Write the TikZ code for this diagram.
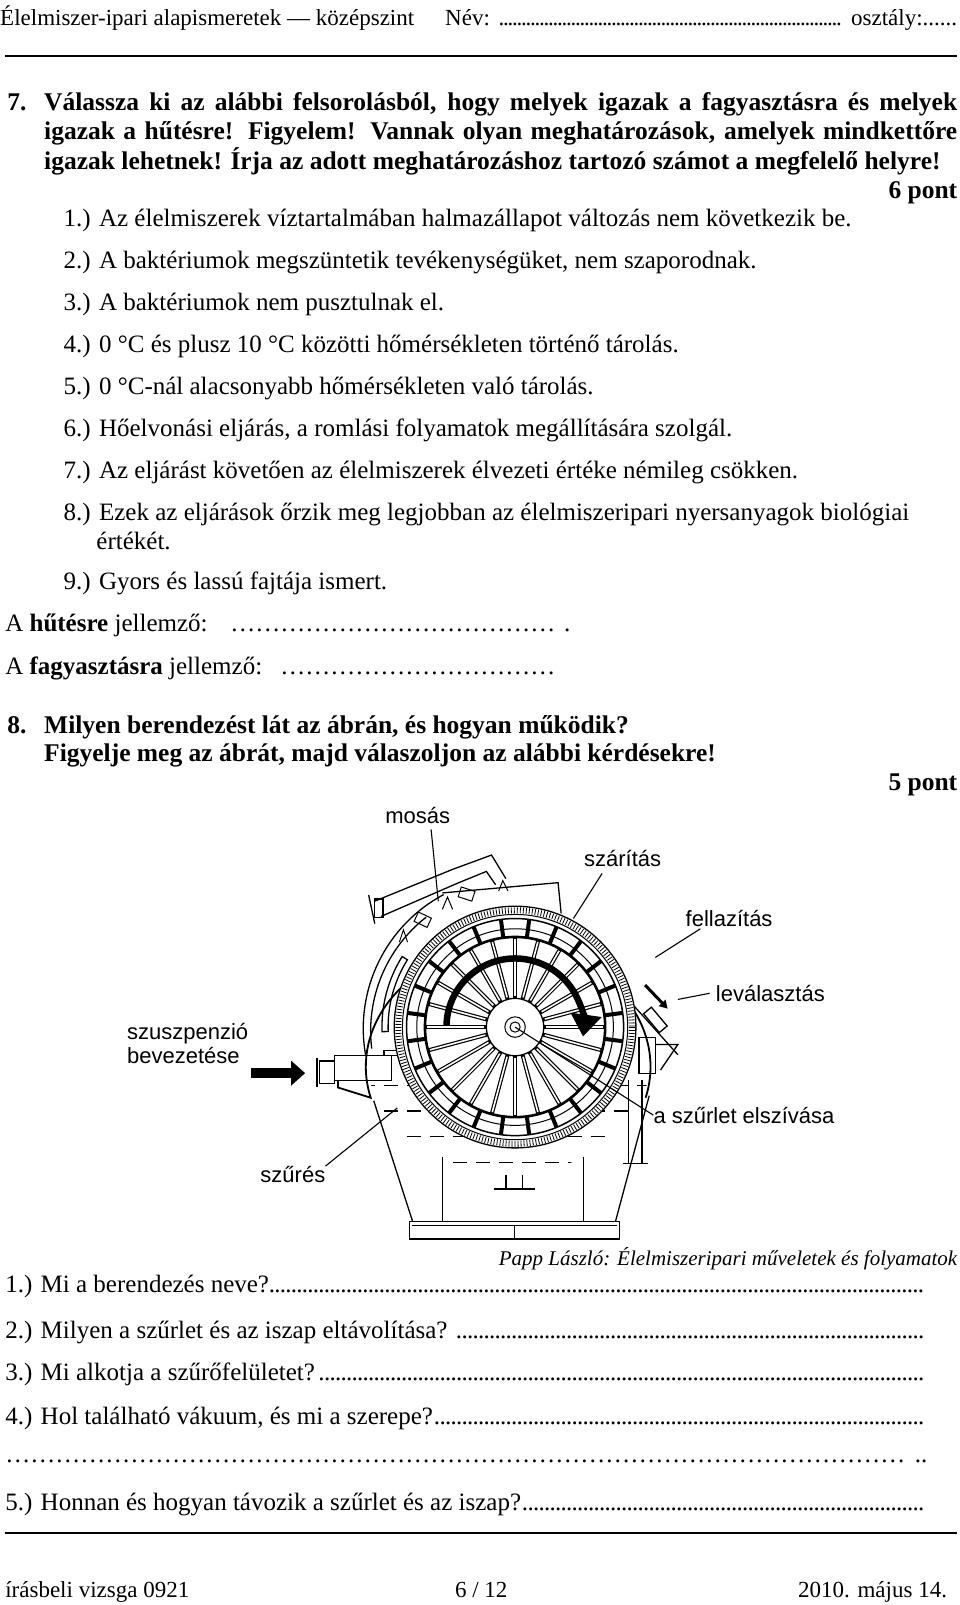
\documentclass[tikz,border=0pt]{standalone}
\usepackage{fontspec}
\setmainfont{Liberation Serif}
\newfontfamily\arialf{Liberation Sans}
\usetikzlibrary{arrows.meta,calc}
\newcommand\ellfill[1]{\leaders\hbox to #1{\hss…\hss}\hfill}
\newcommand\dotl{\leaders\hbox to 5.5pt{\hss.\hss}\hfill}
\begin{document}
\begin{tikzpicture}[x=1.024pt,y=-1.024pt,
  txt/.style={anchor=west,inner sep=0pt,font=\fontsize{25}{28}\selectfont},
  htxt/.style={anchor=west,inner sep=0pt,font=\fontsize{23}{26}\selectfont},
  btxt/.style={anchor=west,inner sep=0pt,font=\fontsize{25.5}{28}\selectfont\bfseries},
  lbl/.style={anchor=center,inner sep=0pt,font=\arialf\fontsize{22}{25}\selectfont},
  ldr/.style={line width=1.1pt},
  mech/.style={line width=1.3pt},
]
\useasboundingbox[fill=white] (0,0) rectangle (937.5,1567.4);
% header
\node[htxt] (h1) at (0,18) {Élelmiszer-ipari alapismeretek — középszint};
\node[htxt,anchor=base east] (h2) at (h1.base -| 935,0) {\hbox to 512pt{Név: \leaders\hbox to 4.5pt{\hss.\hss}\hfill\ osztály:......}};
\draw[line width=2.2pt] (5,55) -- (935,55);
% question 7
\node[btxt] (q7a) at (43,102) {\makebox[913pt][s]{Válassza ki az alábbi felsorolásból, hogy melyek igazak a fagyasztásra és melyek}};
\node[btxt,anchor=base west] (q7n) at (q7a.base -| 7,0) {7.};
\node[btxt] (q7b) at (43,130) {\makebox[913pt][s]{igazak a hűtésre! Figyelem! Vannak olyan meghatározások, amelyek mindkettőre}};
\node[btxt] (q7c) at (43,158) {igazak lehetnek! Írja az adott meghatározáshoz tartozó számot a megfelelő helyre!};
\node[btxt,anchor=east] (p6) at (935,188) {6 pont};
\node[txt] (i1) at (62,215) {1.) Az élelmiszerek víztartalmában halmazállapot változás nem következik be.};
\node[txt] (i2) at (62,256) {2.) A baktériumok megszüntetik tevékenységüket, nem szaporodnak.};
\node[txt] (i3) at (62,297) {3.) A baktériumok nem pusztulnak el.};
\node[txt] (i4) at (62,338) {4.) 0 °C és plusz 10 °C közötti hőmérsékleten történő tárolás.};
\node[txt] (i5) at (62,379) {5.) 0 °C-nál alacsonyabb hőmérsékleten való tárolás.};
\node[txt] (i6) at (62,420) {6.) Hőelvonási eljárás, a romlási folyamatok megállítására szolgál.};
\node[txt] (i7) at (62,461) {7.) Az eljárást követően az élelmiszerek élvezeti értéke némileg csökken.};
\node[txt] (i8) at (62,502) {8.) Ezek az eljárások őrzik meg legjobban az élelmiszeripari nyersanyagok biológiai};
\node[txt] (i8b) at (94,528) {értékét.};
\node[txt] (i9) at (62,570) {9.) Gyors és lassú fajtája ismert.};
\node[txt] (a1) at (5,611) {\hbox to 565pt{A \textbf{hűtésre} jellemző:\ellfill{25pt}.}};
\node[txt] (a2) at (5,653) {\hbox to 558pt{A \textbf{fagyasztásra} jellemző:\ellfill{25pt}}};
% question 8
\node[btxt] (q8a) at (43,710) {Milyen berendezést lát az ábrán, és hogyan működik?};
\node[btxt,anchor=base west] (q8n) at (q8a.base -| 7,0) {8.};
\node[btxt] (q8b) at (43,738) {Figyelje meg az ábrát, majd válaszoljon az alábbi kérdésekre!};
\node[btxt,anchor=east] (p5) at (935,766) {5 pont};

% ---------------- figure ----------------
\coordinate (C) at (503,1003);
% liquid dashes in bowl
\begin{scope}
\clip (362,1040) rectangle (640,1150);
\clip (497,1030) ellipse [x radius=139, y radius=117];
\foreach \yy in {1060,1085,1110,1135}
  \draw[line width=1.1pt, dash pattern=on 14pt off 9pt] (330,\yy) -- (660,\yy);
\end{scope}
% bowl
\draw[line width=1.8pt] (330,1055) -- (330,1062) -- (362,1072)
  arc[start angle=-195, end angle=15, x radius=139, y radius=117];
% legs
\draw[mech] (365,1075) -- (403,1193);
\draw[mech] (634,1070) -- (601,1193);
\draw[mech] (432,1130) -- (432,1193);
\draw[mech] (570,1130) -- (570,1193);
\draw[mech] (400,1193) rectangle (605,1210);
\draw[line width=0.8pt] (402,1197) -- (603,1197);
\draw[line width=0.8pt] (502,1197) -- (502,1210);
% outlet
\draw[mech] (494,1147) -- (494,1160) (510,1147) -- (510,1160);
\draw[line width=2pt] (482,1161) -- (522,1161);
% inlet
\draw[mech] (327,1031) rectangle (382,1055);
\draw[mech] (312,1036) rectangle (327,1058);
\draw[line width=2pt] (310,1033) -- (310,1062);
\draw[mech] (375,1026) rectangle (400,1031);
% big inlet arrow
\draw[line width=10pt,-{Triangle[length=14pt,width=24pt]}] (245,1048) -- (298,1048);
% left hood
\draw[mech] (357,1030) arc[start angle=-190, end angle=-118, radius=148];
\draw[mech] (363,1024) arc[start angle=-187, end angle=-128, radius=141];
\draw[mech] ($(C)+(-148:130)$) arc[start angle=-148, end angle=-182, radius=130]
  -- ($(C)+(-182:124)$) arc[start angle=-182, end angle=-148, radius=124] -- cycle;
% top hood and pipe
\draw[mech] (432,872) -- (545,862) -- (548,892);
\draw[mech] (366,880) -- (442,849) -- (480,835) -- (494,858);
\draw[mech] (372,895) -- (448,862) -- (475,851) -- (484,864);
\draw[mech] (360,874) -- (366,902);
\draw[mech] (366,878) rectangle (374,896);
% nozzles
\draw[line width=1pt,rotate around={-18:(455,875)}] (448,868) rectangle (462,878);
\draw[line width=1pt,rotate around={-25:(412,900)}] (405,893) rectangle (419,903);
\draw[line width=1pt] (432,888) -- (437,876) -- (442,888) (487,870) -- (491,860) -- (496,870);
\draw[line width=1pt] (390,920) -- (394,908) -- (398,920);
% right side
\draw[mech] (624,1013) rectangle (640,1048);
\draw[mech] (614,1055) -- (614,1136) (627,1055) -- (627,1136);
\draw[mech] (608,1136) -- (633,1136);
\draw[mech] (640,1020) -- (662,1020) -- (645,1045);
\draw[mech] (617,980) -- (662,1030);
\draw[mech,rotate around={-50:(640,996)}] (628,991) rectangle (652,1001);
\draw[line width=3pt,-{Triangle[length=8pt,width=9pt]}] (630,962) -- (652,985);
% drum
\fill[white] (C) circle[radius=118];
\draw[line width=1.3pt] (C) circle[radius=118];
\draw[line width=1pt] (C) circle[radius=110];
\draw[line width=6pt, dash pattern=on 0.8pt off 2.2pt] (C) circle[radius=114];
\draw[line width=1.5pt] (C) circle[radius=106];
\draw[line width=2.6pt] (C) circle[radius=88];
\draw[line width=1pt] (C) circle[radius=96];
\foreach \a in {7.5,22.5,...,352.5}
  \draw[line width=4pt] ($(C)+(\a:88)$) -- ($(C)+(\a:106)$);
\foreach \a in {0,15,...,345}{
  \draw[line width=4pt] ($(C)+(\a:28)$) -- ($(C)+(\a:88)$);
  \draw[line width=1.6pt,white] ($(C)+(\a:30)$) -- ($(C)+(\a:86)$);
}
\draw[line width=1.3pt,fill=white] (C) circle[radius=28];
\draw[line width=1pt] (C) circle[radius=10] (C) circle[radius=5];
% rotation arrow
\draw[line width=6.5pt,-{Triangle[length=22pt,width=30pt]}] ($(C)+(-179:67)$) arc[start angle=-179, end angle=8, radius=67];
% labels
\node[lbl] (mos) at (408,796) {mosás};
\node[lbl] (szar) at (608,838) {szárítás};
\node[lbl] (fel) at (712,897) {fellazítás};
\node[lbl,anchor=west] (lev) at (699,970) {leválasztás};
\node[lbl,anchor=west,align=left] (szu) at (124,1019) {szuszpenzió\\[-1pt]bevezetése};
\node[lbl,anchor=west] (elsz) at (638,1089) {a szűrlet elszívása};
\node[lbl] (szu2) at (286,1147) {szűrés};
\coordinate (m1) at (428,880);
\coordinate (s1) at (560,897);
\coordinate (f1) at (640,935);
\coordinate (l1) at (662,976);
\coordinate (z1) at (388,1082);
\draw[ldr] (421,810) -- (m1);
\draw[ldr] (588,853) -- (s1);
\draw[ldr] (684,907) -- (f1);
\draw[ldr] (lev.west) ++(-6,0) -- (l1);
\draw[ldr] (C) -- (elsz.west);
\draw[ldr] (szu2.north east) -- (z1);
% caption
\node[anchor=east,inner sep=0pt,font=\fontsize{21}{24}\selectfont\itshape] (cap) at (935,1229) {Papp László: Élelmiszeripari műveletek és folyamatok};
% questions
\node[txt] (k1) at (5,1256) {\hbox to 922pt{1.) Mi a berendezés neve?\dotl}};
\node[txt] (k2) at (5,1301) {\hbox to 922pt{2.) Milyen a szűrlet és az iszap eltávolítása? \dotl}};
\node[txt] (k3) at (5,1342) {\hbox to 922pt{3.) Mi alkotja a szűrőfelületet?\dotl}};
\node[txt] (k4) at (5,1385) {\hbox to 922pt{4.) Hol található vákuum, és mi a szerepe?\dotl}};
\node[txt] (k4b) at (5,1427) {\hbox to 922pt{\ellfill{25pt}..}};
\node[txt] (k5) at (5,1469) {\hbox to 922pt{5.) Honnan és hogyan távozik a szűrlet és az iszap?\dotl}};
\draw[line width=2.2pt] (5,1497) -- (935,1497);
% footer
\node[htxt] (f1n) at (5,1555) {írásbeli vizsga 0921};
\node[htxt,anchor=base] (f2n) at (f1n.base -| 470,0) {6 / 12};
\node[htxt,anchor=base east] (f3n) at (f1n.base -| 925,0) {2010. május 14.};
\end{tikzpicture}
\end{document}
